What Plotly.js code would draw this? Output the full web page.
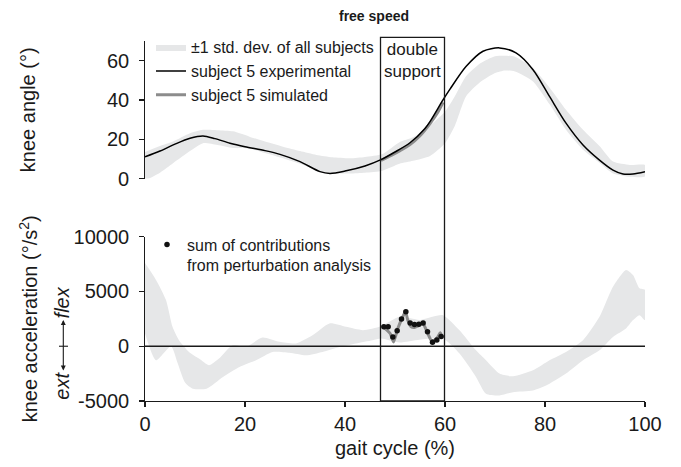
<!DOCTYPE html>
<html><head><meta charset="utf-8">
<script src="https://cdn.plot.ly/plotly-3.0.1.min.js"></script>
<style>html,body{margin:0;padding:0;background:#fff}#chart{width:681px;height:467px}</style>
</head><body><div id="chart"></div>
<script>
// ---- knee angle (top panel) ----
const angleBandX     = [0, 3, 5.6, 9, 11.6, 14.5, 17.6, 20.9, 24, 27.6, 31, 34.3, 37.5, 41, 44, 47.5, 50.9, 53.6, 57, 60, 62, 64.2, 67, 70, 72, 74, 77.6, 81, 84.2, 87.6, 91, 93.6, 97, 100];
const angleBandUpper = [13.5, 16.5, 18.8, 23, 24.8, 24.6, 24, 21.3, 18.8, 16.2, 14, 12, 10.8, 10.3, 11, 12.5, 18.5, 21, 27, 34, 42, 52, 58.5, 62.2, 62.5, 62, 56.3, 46, 35, 24.8, 16.3, 8.6, 6.9, 6.9];
const angleBandLower = [-1, 3, 7.8, 14, 18, 17, 15.5, 15.2, 13, 10.3, 7.5, 4.3, 2.6, 2.6, 3, 4, 7.5, 9, 11.5, 18, 27, 41.8, 49, 53.7, 55, 54.5, 49.4, 37.5, 24.8, 14.6, 7.8, 2.6, 0.9, 1];

const expX     = [0, 3, 6, 9, 11.6, 14, 17, 20, 24, 27, 31, 35, 37, 40, 44, 47.2, 50, 53, 56, 57, 59.6, 61, 64.2, 67.6, 70.9, 74.2, 77.6, 80.9, 84.2, 87.6, 90.9, 93.6, 95.6, 97.6, 100];
const expAngle = [11, 14, 17.5, 20.5, 21.7, 20.3, 18, 16.2, 14.2, 12.3, 8.6, 3.5, 2.6, 3.8, 6.4, 9.6, 13.5, 18.2, 25.5, 29, 40, 45.5, 57, 64.8, 66.5, 63.9, 55.4, 41.8, 28.2, 17.1, 9.4, 4.3, 2.3, 2.3, 3.5];

const simX     = [47.2, 49, 51, 53, 55, 57, 58.5, 59.6];
const simAngle = [9.2, 11.5, 14.2, 17.3, 21.8, 28, 33.5, 38.8];

// ---- knee acceleration (bottom panel) ----
const accUpperX = [0, 2.2, 4.2, 5.5, 6.8, 8.8, 10.8, 12.8, 14.8, 17.5, 20.2, 23.5, 26.9, 30.2, 33.5, 36.9, 40.2, 43.6, 47.2, 50.9, 54.9, 57.5, 59.6, 62.9, 66.2, 68.2, 70.9, 73.6, 77.6, 80.9, 84.2, 87.6, 90.9, 93.6, 96.2, 97.6, 98.9, 100];
const accUpper  = [7590, 6055, 4220, 1770, 550, -520, -1130, -1740, -1130, 90, -60, 800, 400, 250, 1000, 2080, 1770, 1470, 1830, 2700, 2400, 2700, 2840, 1470, -370, -1280, -2500, -2750, -2200, -1280, -520, 550, 2690, 5440, 6970, 6510, 5290, 5140];
const accLowerX = [0, 2.2, 5.2, 6.5, 8, 9.6, 12.3, 15.6, 18.9, 22.2, 25.5, 28.9, 32.2, 35.5, 38.9, 42.2, 45.5, 47.2, 50.9, 54.9, 59.6, 62.9, 66.2, 68.2, 70.9, 73.6, 77.6, 80.9, 84.2, 87.6, 90.9, 93.6, 96.2, 97.6, 98.9, 100];
const accLower  = [1165, -1284, 0, -1500, -3300, -3880, -3880, -2800, -1900, -1284, -520, -600, -826, -520, -60, 250, 550, 700, 350, 600, 700, -670, -2800, -4340, -4500, -4190, -4040, -3420, -2500, -1280, -370, 850, 1620, 2385, 2840, 2385];

const simAccX = [47.76, 49.03, 49.7, 50.56, 51.56, 52.1, 52.56, 53.24, 53.9, 54.56, 55.56, 56.56, 57.24, 57.9, 58.56, 59.04, 59.44];
const simAcc  = [1720, 1160, 394, 1620, 2690, 3147, 2385, 1770, 1715, 1835, 2080, 1165, 550, 550, 853, 1220, 853];

const sumX   = [47.77, 48.63, 49.57, 50.43, 51.3, 52.17, 53.03, 53.9, 54.77, 55.63, 56.5, 57.5, 58.37, 59.23];
const sumAcc = [1770, 1770, 853, 1404, 2477, 3147, 2110, 1990, 2000, 2120, 1330, 367, 580, 900];

// ---- ticks / labels ----
const xTickVals = [0, 20, 40, 60, 80, 100];
const angleTickVals = [0, 20, 40, 60];
const angleTickText = ['0', '20', '40', '60'];
const accTickVals = [-5000, 0, 5000, 10000];
const accTickText = ['-5000', '0', '5000', '10000'];
const doubleSupport = [47.1, 59.9];

const FONT = 'Liberation Sans, Arial, Helvetica, sans-serif';
const INK = '#1a1a1a';
const BAND = 'rgb(230,231,232)';
const SIM = 'rgb(140,140,140)';
const PAD = '\u00a0';

function polygon(xu, yu, xl, yl) {
  return {x: xu.concat(xl.slice().reverse()), y: yu.concat(yl.slice().reverse())};
}
const topPoly = polygon(angleBandX, angleBandUpper, angleBandX, angleBandLower);
const botPoly = polygon(accUpperX, accUpper, accLowerX, accLower);

const traces = [
  {x: topPoly.x, y: topPoly.y, xaxis: 'x', yaxis: 'y', type: 'scatter', mode: 'lines',
   fill: 'toself', fillcolor: BAND, line: {width: 0, color: BAND, shape: 'spline', smoothing: 0.6},
   name: '±1 std. dev. of all subjects', legendrank: 1, hoverinfo: 'skip'},
  {x: simX, y: simAngle, xaxis: 'x', yaxis: 'y', type: 'scatter', mode: 'lines',
   line: {color: SIM, width: 3, shape: 'spline'}, name: 'subject 5 simulated', legendrank: 3},
  {x: expX, y: expAngle, xaxis: 'x', yaxis: 'y', type: 'scatter', mode: 'lines',
   line: {color: '#000', width: 1.5, shape: 'spline', smoothing: 0.8}, name: 'subject 5 experimental', legendrank: 2},
  {x: botPoly.x, y: botPoly.y, xaxis: 'x', yaxis: 'y2', type: 'scatter', mode: 'lines',
   fill: 'toself', fillcolor: BAND, line: {width: 0, color: BAND, shape: 'spline', smoothing: 0.6},
   showlegend: false, hoverinfo: 'skip'},
  {x: simAccX, y: simAcc, xaxis: 'x', yaxis: 'y2', type: 'scatter', mode: 'lines',
   line: {color: SIM, width: 3, shape: 'spline', smoothing: 0.6}, showlegend: false},
  {x: sumX, y: sumAcc, xaxis: 'x', yaxis: 'y2', type: 'scatter', mode: 'markers',
   marker: {color: '#111', size: 5.5}, legend: 'legend2',
   name: 'sum of contributions<br>from perturbation analysis'}
];

const axisCommon = {
  showgrid: false, zeroline: false, showline: true, linecolor: INK, linewidth: 1.3,
  ticks: 'outside', ticklen: 5, tickwidth: 1.3, tickcolor: INK,
  tickfont: {family: FONT, size: 20, color: INK}, layer: 'above traces'
};

const layout = {
  width: 681, height: 467,
  margin: {l: 145, r: 36, t: 41, b: 66},
  paper_bgcolor: '#fff', plot_bgcolor: '#fff',
  font: {family: FONT, color: INK},
  title: {text: '<b>free speed</b>', font: {family: FONT, size: 14, color: INK},
          x: 0.458, xref: 'paper', xanchor: 'center', y: 0.966, yanchor: 'middle'},
  xaxis: Object.assign({}, axisCommon, {
    domain: [0, 1], range: [0, 100], anchor: 'y2', tickvals: xTickVals,
    title: {text: 'gait cycle (%)', font: {family: FONT, size: 20, color: INK}, standoff: 6}
  }),
  yaxis: Object.assign({}, axisCommon, {
    domain: [0.618, 1], range: [0, 70], anchor: 'x',
    tickvals: angleTickVals, ticktext: angleTickText.map(t => t + PAD),
    title: {text: 'knee angle (°)', font: {family: FONT, size: 20, color: INK}, standoff: 66}
  }),
  yaxis2: Object.assign({}, axisCommon, {
    domain: [0, 0.4564], range: [-5000, 10000], anchor: 'x',
    tickvals: accTickVals, ticktext: accTickText.map(t => t + PAD),
    title: {text: 'knee acceleration (°/s<sup>2</sup>)', font: {family: FONT, size: 20, color: INK}, standoff: 30}
  }),
  showlegend: true,
  legend: {x: 0.012, xanchor: 'left', y: 1.03, yanchor: 'top', bgcolor: 'rgba(0,0,0,0)',
           font: {family: FONT, size: 16, color: INK}, itemwidth: 30, tracegroupgap: 0},
  legend2: {x: 0.004, xanchor: 'left', y: 0.482, yanchor: 'top', bgcolor: 'rgba(0,0,0,0)',
            valign: 'top', font: {family: FONT, size: 16, color: INK}, itemwidth: 30},
  shapes: [
    {type: 'rect', xref: 'x', yref: 'paper', x0: doubleSupport[0], x1: doubleSupport[1], y0: 0, y1: 1.01,
     line: {color: INK, width: 1.3}, layer: 'above'},
    {type: 'line', xref: 'x', yref: 'y2', x0: 0, x1: 100, y0: 0, y1: 0,
     line: {color: INK, width: 1.3}, layer: 'above'},
    {type: 'line', xref: 'paper', yref: 'y2', x0: -0.172, x1: -0.154, y0: 0, y1: 0,
     line: {color: INK, width: 1.1}, layer: 'above'}
  ],
  annotations: [
    {xref: 'x', yref: 'paper', x: (doubleSupport[0] + doubleSupport[1]) / 2, y: 0.947,
     text: 'double<br>support', showarrow: false, font: {family: FONT, size: 17, color: INK},
     xanchor: 'center', yanchor: 'middle'},
    {xref: 'paper', yref: 'y2', x: -0.1634, y: 2400, ax: 0, ay: 52, text: '', showarrow: true,
     arrowside: 'end+start', arrowhead: 2, arrowsize: 0.9, arrowwidth: 1.1, arrowcolor: INK},
    {xref: 'paper', yref: 'y2', x: -0.166, y: 4000, text: '<i>flex</i>', textangle: -90, showarrow: false,
     font: {family: FONT, size: 20, color: INK}, xanchor: 'center', yanchor: 'middle'},
    {xref: 'paper', yref: 'y2', x: -0.166, y: -3600, text: '<i>ext</i>', textangle: -90, showarrow: false,
     font: {family: FONT, size: 20, color: INK}, xanchor: 'center', yanchor: 'middle'}
  ]
};

Plotly.newPlot('chart', traces, layout, {displayModeBar: false, staticPlot: true});
</script></body></html>
